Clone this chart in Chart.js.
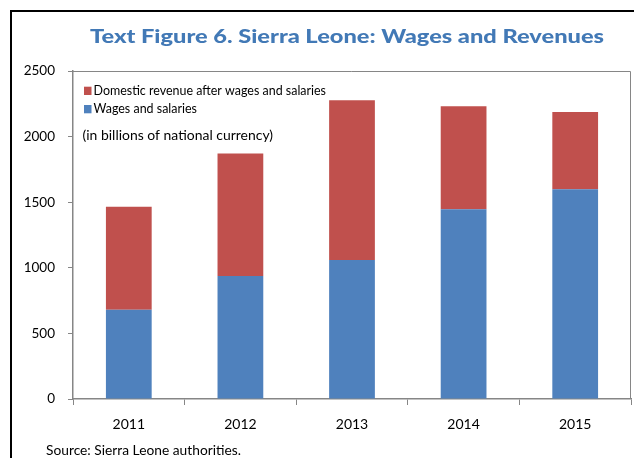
<!DOCTYPE html>
<html>
<head>
<meta charset="utf-8">
<script src="https://cdn.jsdelivr.net/npm/chart.js@4"></script>
<style>
html,body{margin:0;padding:0;background:#fff;}
#wrap{width:634px;height:458px;position:relative;}
</style>
</head>
<body>
<div id="wrap"><canvas id="c" width="634" height="458"></canvas></div>
<script>
const titleText = 'Text Figure 6. Sierra Leone: Wages and Revenues';
const unitNote = '(in billions of national currency)';
const sourceNote = 'Source: Sierra Leone authorities.';
const years = ['2011', '2012', '2013', '2014', '2015'];
const wagesAndSalaries = [680, 938, 1060, 1446, 1598];
const domesticRevenueAfterWages = [786, 934, 1218, 786, 589];
const yMin = 0, yMax = 2500, yStep = 500;

const FONT = 'Lato, "Open Sans", sans-serif';
const GRAY = '#868686';

function fillFit(ctx, text, x, y, width) {
  const w = ctx.measureText(text).width;
  const sx = width / w;
  ctx.save();
  ctx.translate(x, y);
  ctx.scale(sx, 1);
  ctx.textAlign = 'left';
  ctx.fillText(text, 0, 0);
  ctx.restore();
}

const decor = {
  id: 'decor',
  beforeDraw(chart) {
    const ctx = chart.ctx;
    ctx.save();
    ctx.fillStyle = '#fff';
    ctx.fillRect(0, 0, chart.width, chart.height);
    ctx.fillStyle = '#000';
    ctx.fillRect(10, 10, chart.width - 10, 2);
    ctx.fillRect(10, 10, 2, chart.height - 10);
    ctx.restore();
  },
  afterDraw(chart) {
    const ctx = chart.ctx;
    const a = chart.chartArea;
    ctx.save();
    ctx.strokeStyle = GRAY;
    ctx.lineWidth = 1;
    ctx.beginPath();
    ctx.moveTo(a.left, a.top + 0.5);
    ctx.lineTo(a.right - 0.5, a.top + 0.5);
    ctx.lineTo(a.right - 0.5, a.bottom);
    ctx.stroke();
    ctx.textBaseline = 'alphabetic';
    // title
    ctx.fillStyle = '#4279B6';
    ctx.font = '900 19px ' + FONT;
    fillFit(ctx, titleText, 90, 42.5, 514);
    // legend
    ctx.font = '13px ' + FONT;
    const ds = chart.data.datasets;
    const order = [1, 0];
    order.forEach((idx, row) => {
      const y = 95 + row * 18.3;
      ctx.fillStyle = ds[idx].backgroundColor;
      ctx.fillRect(84, y - 8.3, 7.5, 8.3);
      ctx.fillStyle = '#000';
      fillFit(ctx, ds[idx].label, 93.5, y, row === 0 ? 232.5 : 103.5);
    });
    ctx.font = '14px ' + FONT;
    fillFit(ctx, unitNote, 82.5, 139.5, 190.5);
    ctx.font = '14px ' + FONT;
    fillFit(ctx, sourceNote, 46, 455, 195);
    ctx.restore();
  }
};

new Chart(document.getElementById('c'), {
  type: 'bar',
  data: {
    labels: years,
    datasets: [
      { label: 'Wages and salaries', data: wagesAndSalaries, backgroundColor: '#4F81BD', borderWidth: 0 },
      { label: 'Domestic revenue after wages and salaries', data: domesticRevenueAfterWages, backgroundColor: '#C0504D', borderWidth: 0 }
    ]
  },
  options: {
    responsive: false,
    animation: false,
    devicePixelRatio: 1,
    layout: { padding: { left: 0, top: 71, right: 3, bottom: 0 } },
    plugins: { legend: { display: false }, title: { display: false }, tooltip: { enabled: false } },
    datasets: { bar: { barPercentage: 0.41, categoryPercentage: 1 } },
    scales: {
      x: {
        stacked: true,
        offset: true,
        grid: { offset: true, drawOnChartArea: false, drawTicks: true, tickLength: 6, color: GRAY },
        border: { display: true, color: GRAY, width: 1.5 },
        ticks: { color: '#000', font: { family: FONT, size: 14 }, padding: 11, maxRotation: 0 },
        afterFit(s) { s.height = 59; }
      },
      y: {
        stacked: true,
        min: yMin, max: yMax,
        grid: { drawOnChartArea: false, drawTicks: true, tickLength: 5, color: GRAY },
        border: { display: true, color: GRAY, width: 1.5 },
        ticks: { stepSize: yStep, color: '#000', font: { family: FONT, size: 13.5 }, padding: 13,
                 callback: (v) => String(v) },
        afterFit(s) { s.width = 73; }
      }
    }
  },
  plugins: [decor]
});
</script>
</body>
</html>
